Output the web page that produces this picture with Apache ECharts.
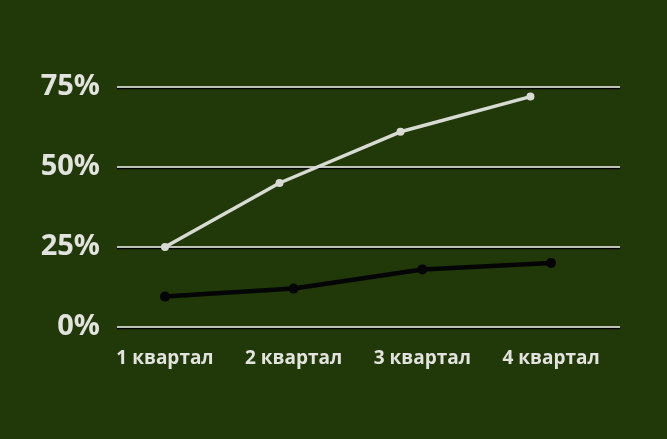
<!DOCTYPE html>
<html>
<head>
<meta charset="utf-8">
<script src="https://cdn.jsdelivr.net/npm/echarts@6/dist/echarts.min.js"></script>
<style>
  html, body { margin: 0; padding: 0; background: #213808; }
  #chart { width: 667px; height: 439px; }
</style>
</head>
<body>
<div id="chart"></div>
<script>
// категории (позиции подписей на оси X)
var quarters = ['1 квартал', '2 квартал', '3 квартал', '4 квартал'];
var quarterPos = [1, 2, 3, 4];

// светлая линия: точки стоят не ровно по кварталам
var lightX = [1, 1.89, 2.83, 3.84];
var lightY = [25, 45, 61, 72];

// чёрная линия
var darkX = [1, 2, 3, 4];
var darkY = [9.5, 12, 18, 20];

var yTicks = [0, 25, 50, 75];

function pairs(xs, ys){
  return xs.map(function(x, i){ return [x, ys[i]]; });
}

var chart = echarts.init(document.getElementById('chart'), null, { renderer: 'canvas' });

var labelFont = {
  color: '#e2e3de',
  fontFamily: 'Open Sans',
  fontWeight: 'bold'
};

var option = {
  backgroundColor: '#213808',
  animation: false,
  grid: {
    left: 117,
    right: 47,
    top: 87,
    bottom: 112
  },
  xAxis: {
    type: 'value',
    min: 0.627,
    max: 4.536,
    axisLine: { show: false },
    axisTick: { show: false },
    splitLine: { show: false },
    axisLabel: Object.assign({
      customValues: quarterPos,
      fontSize: 19,
      margin: 22,
      formatter: function(v){
        var i = quarterPos.indexOf(Math.round(v));
        return i >= 0 ? quarters[i] : '';
      }
    }, labelFont)
  },
  yAxis: {
    type: 'value',
    min: yTicks[0],
    max: yTicks[yTicks.length - 1],
    interval: 25,
    axisLine: { show: false },
    axisTick: { show: false },
    splitLine: {
      lineStyle: {
        color: '#f2f2f0',
        width: 1.5,
        shadowColor: '#000000',
        shadowOffsetY: 1.5
      }
    },
    axisLabel: Object.assign({
      fontSize: 29,
      margin: 17,
      formatter: '{value}%'
    }, labelFont)
  },
  series: [
    {
      name: 'light',
      type: 'line',
      data: pairs(lightX, lightY),
      symbol: 'circle',
      symbolSize: 8,
      lineStyle: { color: '#d8dbd4', width: 3.5 },
      itemStyle: { color: '#d8dbd4' }
    },
    {
      name: 'dark',
      type: 'line',
      data: pairs(darkX, darkY),
      symbol: 'circle',
      symbolSize: 10,
      lineStyle: { color: '#050505', width: 4.5 },
      itemStyle: { color: '#050505' }
    }
  ]
};

chart.setOption(option);
</script>
</body>
</html>
